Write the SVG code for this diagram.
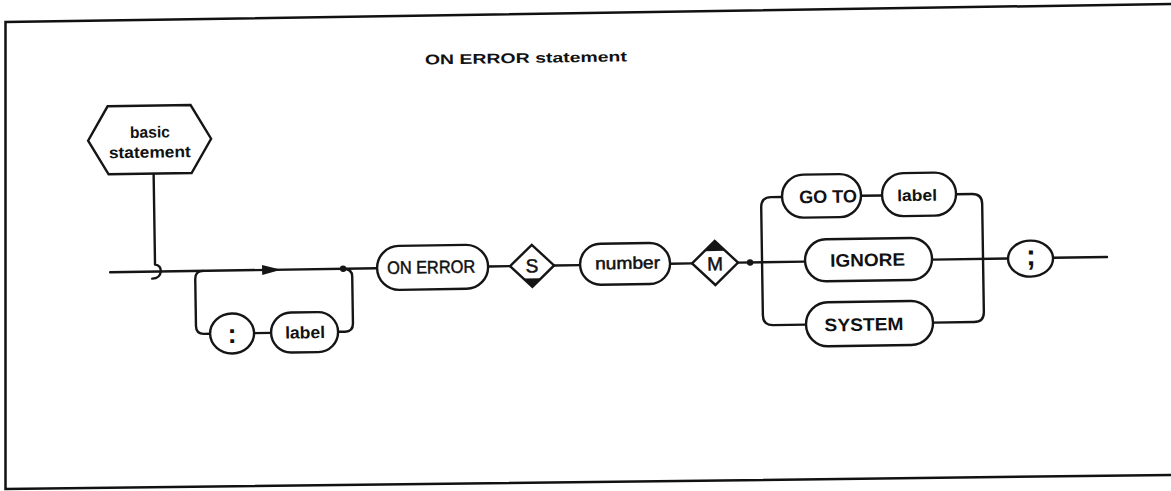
<svg xmlns="http://www.w3.org/2000/svg" width="1171" height="491" viewBox="0 0 1171 491">
<style>
.ln{fill:none;stroke:#151515;stroke-width:2.4;stroke-linecap:round;stroke-linejoin:round}
.nd{fill:#fff;stroke:#151515;stroke-width:2.4}
.fr{fill:none;stroke:#111;stroke-width:2.5}
.tx{font-family:"Liberation Sans",Arial,sans-serif;fill:#111;text-anchor:middle}
.b{font-weight:bold}
.r{stroke:#111;stroke-width:0.5}
.blk{fill:#151515}
</style>
<rect width="1171" height="491" fill="#fff"/>
<g id="frame">
<polyline class="fr" points="1171,4 5.5,22 5.5,489 1171,475"/>
</g>
<g transform="rotate(-0.88 585 260)">
<text id="title" class="tx b" x="529" y="62" font-size="14" textLength="202" lengthAdjust="spacingAndGlyphs">ON ERROR statement</text>
<g id="connectors">
<path class="ln" d="M110,265 H377"/>
<path class="ln" d="M155,167 V258 C163,258 163,272 152,272"/>
<polygon class="blk" points="262,260 281,265 262,270"/>
<path class="ln" d="M203,265 Q195,265 195,273 V320 Q195,328 203,328 H209"/>
<path class="ln" d="M253,328 H270"/>
<path class="ln" d="M337,328 H344 Q352,328 352,320 V273 Q352,265 343,265"/>
<circle class="blk" cx="343" cy="265" r="3.2"/>
<path class="ln" d="M488,265 H510"/>
<path class="ln" d="M554,265 H580"/>
<path class="ln" d="M670,265 H692"/>
<path class="ln" d="M738,265 H805"/>
<circle class="blk" cx="750" cy="265" r="3.2"/>
<path class="ln" d="M783,200 H772 Q762,200 762,210 V318 Q762,328 772,328 H805"/>
<path class="ln" d="M862,200 H883"/>
<path class="ln" d="M957,200 H973 Q983,200 983,210 V318 Q983,328 973,328 H932"/>
<path class="ln" d="M932,265 H1008"/>
<path class="ln" d="M1053,265 H1107"/>
</g>
<g id="basic-statement">
<polygon class="nd" points="110,99 193,99 213,133 193,167 110,167 90,133"/>
<text class="tx b" x="152" y="131" font-size="16" textLength="40" lengthAdjust="spacingAndGlyphs">basic</text>
<text class="tx b" x="151.5" y="151" font-size="16" textLength="82" lengthAdjust="spacingAndGlyphs">statement</text>
</g>
<g id="colon">
<ellipse class="nd" cx="231" cy="328" rx="22" ry="20"/>
<text class="tx b" x="231" y="337.5" font-size="27">:</text>
</g>
<g id="label1">
<rect class="nd" x="270" y="308" width="67" height="40" rx="20"/>
<text class="tx b" x="304" y="334" font-size="17" textLength="40" lengthAdjust="spacingAndGlyphs">label</text>
</g>
<g id="on-error">
<rect class="nd" x="377" y="243" width="111" height="44" rx="22"/>
<text class="tx r" x="431" y="271" font-size="18" textLength="88" lengthAdjust="spacingAndGlyphs">ON ERROR</text>
</g>
<g id="s">
<polygon class="nd" points="510,265 532,244 554,265 532,286"/>
<polygon class="blk" points="523,277.5 541,277.5 532,286"/>
<text class="tx r" x="532" y="271.5" font-size="19">S</text>
</g>
<g id="number">
<rect class="nd" x="580" y="244" width="90" height="41" rx="20.5"/>
<text class="tx r" x="627.5" y="269.5" font-size="17" textLength="65" lengthAdjust="spacingAndGlyphs">number</text>
</g>
<g id="m">
<polygon class="nd" points="692,265 715,243 738,265 715,287"/>
<polygon class="blk" points="704.5,253 725.5,253 715,243"/>
<text class="tx r" x="715" y="272.5" font-size="19">M</text>
</g>
<g id="goto">
<rect class="nd" x="783" y="178" width="79" height="43" rx="21.5"/>
<text class="tx b" x="829" y="206.5" font-size="18" textLength="58" lengthAdjust="spacingAndGlyphs">GO TO</text>
</g>
<g id="label2">
<rect class="nd" x="883" y="178" width="74" height="43" rx="21.5"/>
<text class="tx b" x="918" y="206" font-size="16" textLength="40" lengthAdjust="spacingAndGlyphs">label</text>
</g>
<g id="ignore">
<rect class="nd" x="805" y="243" width="127" height="42" rx="21"/>
<text class="tx b" x="867.5" y="270.5" font-size="18" textLength="75" lengthAdjust="spacingAndGlyphs">IGNORE</text>
</g>
<g id="system">
<rect class="nd" x="805" y="306" width="127" height="44" rx="22"/>
<text class="tx b" x="863" y="335" font-size="18" textLength="79" lengthAdjust="spacingAndGlyphs">SYSTEM</text>
</g>
<g id="semicolon">
<ellipse class="nd" cx="1030.5" cy="265.5" rx="22.5" ry="18"/>
<text class="tx b" x="1031" y="272" font-size="29">;</text>
</g>
</g>
</svg>
